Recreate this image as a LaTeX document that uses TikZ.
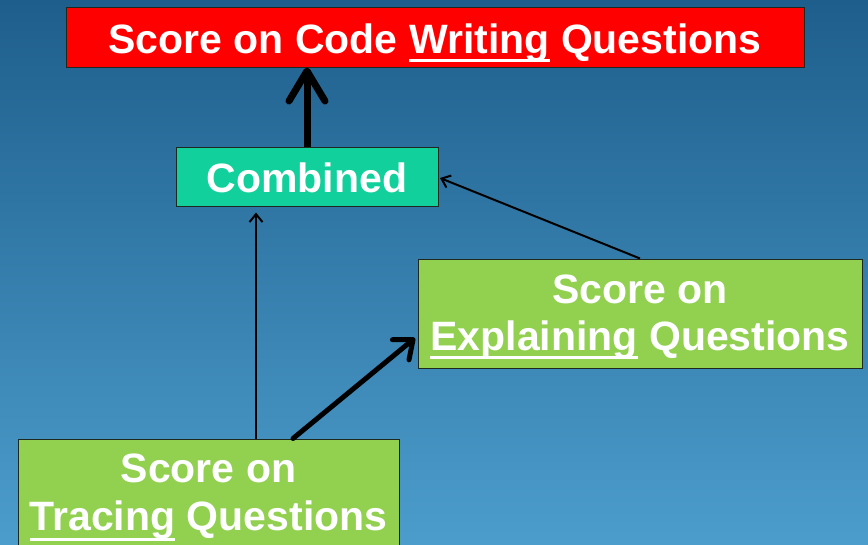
\documentclass[tikz,border=0pt]{standalone}
\usepackage{fontspec}
\setmainfont{Liberation Sans}
\usetikzlibrary{arrows.meta}
\definecolor{bgtop}{RGB}{30,94,140}
\definecolor{bgbot}{RGB}{76,157,204}
\definecolor{boxred}{RGB}{255,0,0}
\definecolor{boxteal}{RGB}{18,208,155}
\definecolor{boxgreen}{RGB}{146,208,80}
\definecolor{edgedark}{RGB}{30,40,30}
\newcommand\myul[2][8.5pt]{\setbox0\hbox{#2}\rlap{\rule[-#1]{\wd0}{3pt}}\box0\relax}
\tikzset{
  box/.style={draw=edgedark, line width=1pt, rectangle, inner sep=0pt},
  lbl/.style={anchor=base, inner sep=0pt, text=white, font=\fontsize{41}{47}\selectfont\bfseries},
  thin/.style={line width=2pt, -{Straight Barb[length=8pt,width=13pt]}},
  thick/.style={line width=5pt, line cap=round, -{Straight Barb[length=16pt,width=26pt,round]}},
  heavy/.style={line width=7pt, -{Straight Barb[length=30pt,width=36pt,round]}}
}
\begin{document}
\begin{tikzpicture}[x=1pt,y=-1pt]
\useasboundingbox (0,0) rectangle (868,544);
\clip (0,0) rectangle (868,544);
\shade[top color=bgtop, bottom color=bgbot] (0,0) rectangle (868,544);
% boxes
\node[box, fill=boxred, minimum width=738pt, minimum height=60pt] (title) at (435,37) {};
\node[box, fill=boxteal, minimum width=262pt, minimum height=59pt] (comb) at (307,176.5) {};
\node[box, fill=boxgreen, minimum width=444pt, minimum height=109pt] (expl) at (640,313.5) {};
\node[box, fill=boxgreen, minimum width=381pt, minimum height=130pt] (trac) at (208.5,504) {};
% texts
\node[lbl] (titletxt) at (435,53) {Score on Code \myul{Writing} Questions};
\node[lbl] (combtxt) at (307,192) {Combined};
\node[lbl] (expltxt1) at (640,303) {Score on};
\node[lbl] (expltxt2) at (640,350) {\myul{Explaining} Questions};
\node[lbl] (tractxt1) at (208.5,482) {Score on};
\node[lbl] (tractxt2) at (208.5,530) {\myul[11pt]{Tracing} Questions};
% connectors
\coordinate (heavyfrom) at (comb.north -| 307,0);
\coordinate (heavyto) at (title.south -| 307,0);
\draw[heavy] (heavyfrom) -- (heavyto);
\coordinate (vfrom) at (trac.north -| 256,0);
\coordinate (vto) at (comb.south -| 256,0);
\draw[thin, shorten >=6pt] (vfrom) -- (vto);
\coordinate (efrom) at (expl.north -| 640,0);
\coordinate (eto) at (440,178);
\draw[thin] (efrom) -- (eto);
\coordinate (tfrom) at (trac.north -| 293,0);
\coordinate (tto) at (415,338);
\draw[thick] (tfrom) -- (tto);
\end{tikzpicture}
\end{document}
